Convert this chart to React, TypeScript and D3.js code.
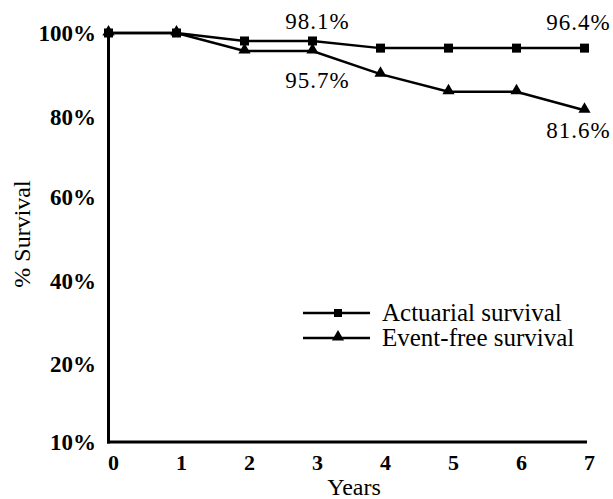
import React from "react";
import * as d3 from "d3";

const years = [0, 1, 2, 3, 4, 5, 6, 7];
const actuarial = [100, 100, 98.1, 98.1, 96.4, 96.4, 96.4, 96.4];
const eventFree = [100, 100, 95.7, 95.7, 90.2, 86.0, 86.0, 81.6];
const yTicks = [10, 20, 40, 60, 80, 100];
const yTickLabels = ["10%", "20%", "40%", "60%", "80%", "100%"];
const seriesNames = ["Actuarial survival", "Event-free survival"];
const annotationYears = [3, 3, 7, 7];
const annotationValues = [98.1, 95.7, 96.4, 81.6];
const annotationTexts = ["98.1%", "95.7%", "96.4%", "81.6%"];

// label offsets (style, not data)
const annDx = [5, 5, -6, -6];
const annDy = [-12, 37, -18, 28];

const W = 613;
const H = 499;
const FONT = "'Liberation Serif', 'Times New Roman', serif";

export default function App() {
  const x = d3.scaleLinear().domain([0, 7]).range([108.5, 584.5]);
  const y = d3.scaleLinear().domain(yTicks).range([442, 364, 281, 197, 117, 33]);

  const line = d3
    .line<number>()
    .x((_, i) => x(years[i]))
    .y((d) => y(d));

  const triPath = d3.symbol().type(d3.symbolTriangle).size(64)();

  return (
    <svg
      width={W}
      height={H}
      style={{ position: "absolute", left: 0, top: 0, background: "#fff" }}
      fontFamily={FONT}
    >
      {/* axes */}
      <line x1={x(0)} x2={x(0)} y1={y(100)} y2={y(10) + 1.5} stroke="#000" strokeWidth={3} />
      <line x1={x(0) - 1.5} x2={587} y1={y(10)} y2={y(10)} stroke="#000" strokeWidth={3} />

      {/* y tick labels */}
      {yTicks.map((t, i) => (
        <text
          key={t}
          x={96}
          y={y(t)}
          dy="0.35em"
          textAnchor="end"
          fontSize={23}
          fontWeight="bold"
        >
          {yTickLabels[i]}
        </text>
      ))}

      {/* x tick labels */}
      {years.map((yr) => (
        <text
          key={yr}
          x={x(yr) + 5}
          y={470}
          textAnchor="middle"
          fontSize={22}
          fontWeight="bold"
        >
          {yr}
        </text>
      ))}

      {/* axis titles */}
      <text x={354} y={495} textAnchor="middle" fontSize={24}>
        Years
      </text>
      <text
        transform={`translate(30, 234) rotate(-90)`}
        textAnchor="middle"
        fontSize={24}
      >
        % Survival
      </text>

      {/* series lines */}
      <path d={line(actuarial) || ""} fill="none" stroke="#000" strokeWidth={2.5} />
      <path d={line(eventFree) || ""} fill="none" stroke="#000" strokeWidth={2.5} />

      {/* markers */}
      {actuarial.map((v, i) => (
        <rect key={"a" + i} x={x(years[i]) - 4.5} y={y(v) - 4.5} width={9} height={9} fill="#000" />
      ))}
      {eventFree.map((v, i) => (
        <path
          key={"e" + i}
          d={triPath || ""}
          transform={`translate(${x(years[i])}, ${y(v) - 1})`}
          fill="#000"
        />
      ))}

      {/* annotations */}
      {annotationTexts.map((t, i) => (
        <text
          key={i}
          x={x(annotationYears[i]) + annDx[i]}
          y={y(annotationValues[i]) + annDy[i]}
          textAnchor="middle"
          fontSize={23}
          letterSpacing={1}
          fontFamily={FONT}
        >
          {t}
        </text>
      ))}

      {/* legend */}
      {seriesNames.map((name, i) => {
        const ly = 313 + i * 25;
        return (
          <g key={name}>
            <line x1={303} x2={370} y1={ly} y2={ly} stroke="#000" strokeWidth={2.5} />
            {i === 0 ? (
              <rect x={334} y={ly - 4} width={8} height={8} fill="#000" />
            ) : (
              <path d={triPath || ""} transform={`translate(338, ${ly - 1})`} fill="#000" />
            )}
            <text x={382} y={ly + 8} fontSize={25}>
              {name}
            </text>
          </g>
        );
      })}
    </svg>
  );
}
